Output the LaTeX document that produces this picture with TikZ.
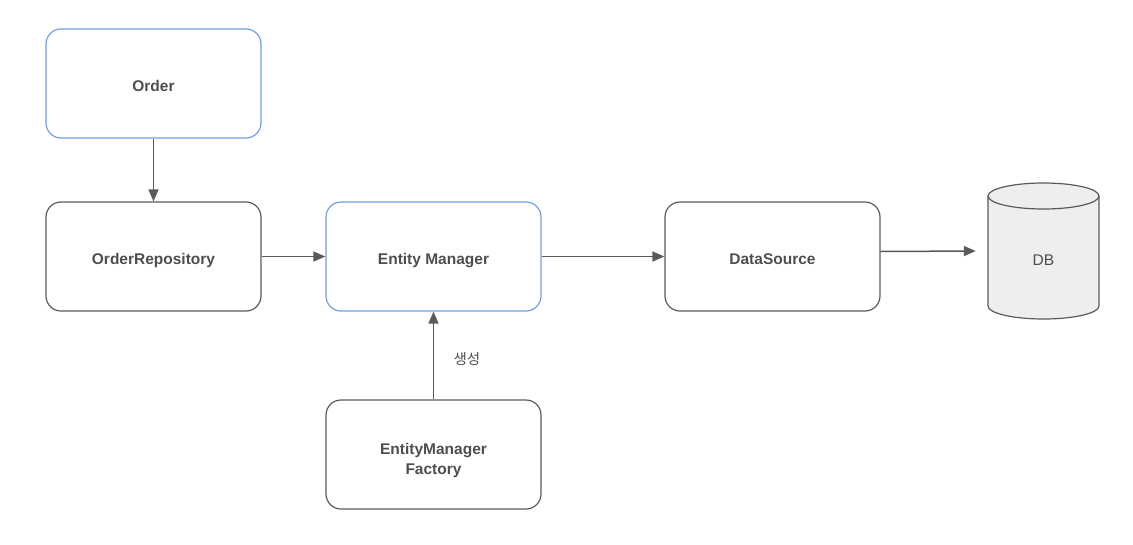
\documentclass[tikz,border=0pt]{standalone}
\usepackage{fontspec}
\setmainfont{Liberation Sans}
\newfontfamily\krfont{Noto Sans CJK KR}
\usetikzlibrary{arrows.meta}
\definecolor{bluebd}{HTML}{6FA0E0}
\definecolor{graybd}{HTML}{5A5A5A}
\definecolor{txt}{HTML}{4E4E4E}
\definecolor{dbfill}{HTML}{EEEEEE}
\tikzset{
  box/.style={draw=graybd, line width=1.2pt, rounded corners=15pt, minimum width=215pt, minimum height=109pt, inner sep=0pt, text height=15pt, text depth=0pt, text=txt, font=\fontsize{15.5pt}{20pt}\selectfont\bfseries},
  bluebox/.style={box, draw=bluebd},
  twoline/.style={text height=20pt, text depth=20pt},
  conn/.style={draw=graybd, line width=1.5pt, -{Triangle[length=12pt,width=10pt]}},
  lbl/.style={text=txt, font=\krfont\fontsize{14.5pt}{17pt}\selectfont}
}
\begin{document}
\begin{tikzpicture}[x=1pt,y=-1pt]
\useasboundingbox (0,0) rectangle (1133,544);
\node[bluebox] (order) at (153.5,83.5) {Order};
\node[box] (repo) at (153.5,256.5) {OrderRepository};
\node[bluebox] (em) at (433.5,256.5) {Entity Manager};
\node[box] (ds) at (772.5,256.5) {DataSource};
\node[box, twoline] (emf) at (433.5,454.5) {\begin{tabular}[t]{@{}c@{}}EntityManager\\Factory\end{tabular}};
% DB cylinder
\node[minimum width=111pt, minimum height=136pt, inner sep=0pt] (db) at (1043.5,251) {};
\draw[draw=graybd, fill=dbfill, line width=1.2pt] (988,196) -- (988,306) arc[start angle=180, end angle=0, x radius=55.5, y radius=13] -- (1099,196) arc[start angle=0, end angle=-180, x radius=55.5, y radius=13] -- cycle;
\draw[draw=graybd, line width=1.2pt] (988,196) arc[start angle=180, end angle=0, x radius=55.5, y radius=13];
\node[text=txt, font=\fontsize{15.5pt}{19pt}\selectfont, text height=15pt, text depth=0pt, inner sep=0pt] (dbtext) at (1043.5,258) {DB};
% connectors
\draw[conn] (order.south) -- (repo.north);
\draw[conn] (repo.east) -- (em.west);
\draw[conn] (em.east) -- (ds.west);
\draw[conn] ([yshift=5pt]ds.east) -- ([xshift=-12pt]db.west);
\draw[conn] (emf.north) -- (em.south) node[pos=0.5, right=16pt, yshift=-4pt, lbl] (lab) {생성};
\end{tikzpicture}
\end{document}
